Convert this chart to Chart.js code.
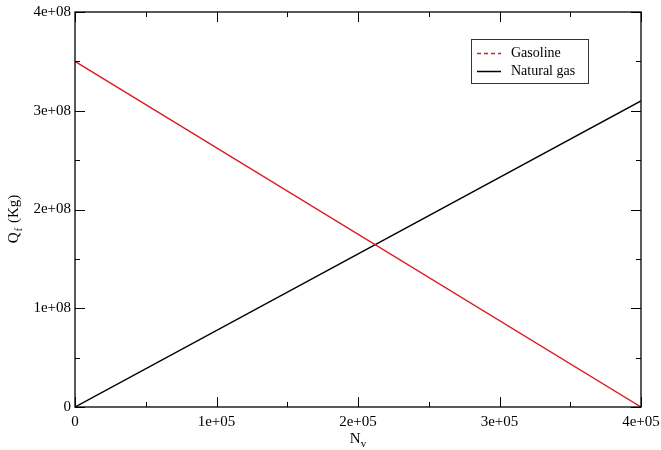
<!DOCTYPE html>
<html>
<head>
<meta charset="utf-8">
<script src="https://cdn.jsdelivr.net/npm/chart.js@4"></script>
<style>
  html, body { margin: 0; padding: 0; background: #fff; }
  #wrap { width: 661px; height: 450px; }
</style>
</head>
<body>
<div id="wrap"><canvas id="myChart" width="661" height="450"></canvas></div>
<script>
// values
const nvPoints = [0, 400000];
const gasoline = [350000000, 0];
const naturalGas = [0, 310000000];
const xTickLabels = ['0', '1e+05', '2e+05', '3e+05', '4e+05'];
const yTickLabels = ['0', '1e+08', '2e+08', '3e+08', '4e+08'];
const seriesNames = ['Gasoline', 'Natural gas'];
const seriesColors = ['#dd1a22', '#000000'];

const serif = "'Liberation Serif', 'DejaVu Serif', serif";

// frame, inward ticks, axis titles and the boxed legend
const gracePlot = {
    id: 'gracePlot',
    afterDraw(chart) {
        const ctx = chart.ctx;
        const a = chart.chartArea;
        const xs = chart.scales.x, ys = chart.scales.y;
        ctx.save();
        ctx.strokeStyle = '#000';
        ctx.lineWidth = 1.3;
        ctx.strokeRect(a.left, a.top, a.right - a.left, a.bottom - a.top);

        ctx.lineWidth = 1;
        ctx.beginPath();
        for (let v = 0; v <= 400000; v += 50000) {
            const len = v % 100000 === 0 ? 10 : 5;
            const px = Math.round(xs.getPixelForValue(v)) + 0.5;
            ctx.moveTo(px, a.bottom); ctx.lineTo(px, a.bottom - len);
            ctx.moveTo(px, a.top); ctx.lineTo(px, a.top + len);
        }
        for (let v = 0; v <= 400000000; v += 50000000) {
            const len = v % 100000000 === 0 ? 10 : 5;
            const py = Math.round(ys.getPixelForValue(v)) + 0.5;
            ctx.moveTo(a.left, py); ctx.lineTo(a.left + len, py);
            ctx.moveTo(a.right, py); ctx.lineTo(a.right - len, py);
        }
        ctx.stroke();

        // axis titles with subscripts
        ctx.fillStyle = '#000';
        ctx.textBaseline = 'alphabetic';
        ctx.font = '15px ' + serif;
        const cx = (a.left + a.right) / 2;
        const wN = ctx.measureText('N').width;
        ctx.font = '11px ' + serif;
        const wv = ctx.measureText('v').width;
        let x0 = cx - (wN + wv) / 2;
        ctx.font = '15px ' + serif;
        ctx.textAlign = 'left';
        ctx.fillText('N', x0, 443);
        ctx.font = '11px ' + serif;
        ctx.fillText('v', x0 + wN, 447);

        ctx.translate(18, 220);
        ctx.rotate(-Math.PI / 2);
        ctx.font = '15px ' + serif;
        const wQ = ctx.measureText('Q').width;
        ctx.font = '11px ' + serif;
        const wf = ctx.measureText('f').width;
        ctx.font = '15px ' + serif;
        const wK = ctx.measureText(' (Kg)').width;
        x0 = -(wQ + wf + wK) / 2;
        ctx.fillText('Q', x0, 0);
        ctx.font = '11px ' + serif;
        ctx.fillText('f', x0 + wQ + 1, 4);
        ctx.font = '15px ' + serif;
        ctx.fillText(' (Kg)', x0 + wQ + wf + 2, 0);
        ctx.setTransform(1, 0, 0, 1, 0, 0);

        // legend
        ctx.strokeStyle = '#333';
        ctx.lineWidth = 1;
        ctx.strokeRect(471.5, 39.5, 117, 44);
        ctx.font = '14px ' + serif;
        ctx.textBaseline = 'middle';
        seriesNames.forEach((name, i) => {
            const y = 53 + i * 18;
            ctx.strokeStyle = seriesColors[i];
            ctx.lineWidth = 1.5;
            ctx.setLineDash(i === 0 ? [4, 3] : []);
            ctx.beginPath();
            ctx.moveTo(477, y + 0.5); ctx.lineTo(501, y + 0.5);
            ctx.stroke();
            ctx.setLineDash([]);
            ctx.fillStyle = '#000';
            ctx.fillText(name, 511, y);
        });
        ctx.restore();
    }
};

new Chart(document.getElementById('myChart').getContext('2d'), {
    type: 'line',
    data: {
        datasets: [
            {
                label: seriesNames[0],
                data: nvPoints.map((x, i) => ({ x: x, y: gasoline[i] })),
                borderColor: seriesColors[0],
                borderWidth: 1.4,
                pointRadius: 0,
                fill: false
            },
            {
                label: seriesNames[1],
                data: nvPoints.map((x, i) => ({ x: x, y: naturalGas[i] })),
                borderColor: seriesColors[1],
                borderWidth: 1.4,
                pointRadius: 0,
                fill: false
            }
        ]
    },
    options: {
        responsive: false,
        animation: false,
        layout: { padding: { left: 0, top: 12, right: 20, bottom: 0 } },
        plugins: { legend: { display: false }, tooltip: { enabled: false } },
        scales: {
            x: {
                type: 'linear',
                min: 0,
                max: 400000,
                grid: { display: false, drawTicks: false },
                border: { display: false },
                ticks: {
                    stepSize: 100000,
                    maxRotation: 0,
                    padding: 6,
                    color: '#000',
                    font: { family: serif, size: 15 },
                    callback: (v) => xTickLabels[Math.round(v / 100000)]
                },
                afterFit: (s) => { s.height = 43; s.paddingRight = 0; s.paddingLeft = 0; }
            },
            y: {
                type: 'linear',
                min: 0,
                max: 400000000,
                grid: { display: false, drawTicks: false },
                border: { display: false },
                ticks: {
                    stepSize: 100000000,
                    padding: 4,
                    color: '#000',
                    font: { family: serif, size: 15 },
                    callback: (v) => yTickLabels[Math.round(v / 100000000)]
                },
                afterFit: (s) => { s.width = 75; s.paddingTop = 0; s.paddingBottom = 0; }
            }
        }
    },
    plugins: [gracePlot]
});
</script>
</body>
</html>
